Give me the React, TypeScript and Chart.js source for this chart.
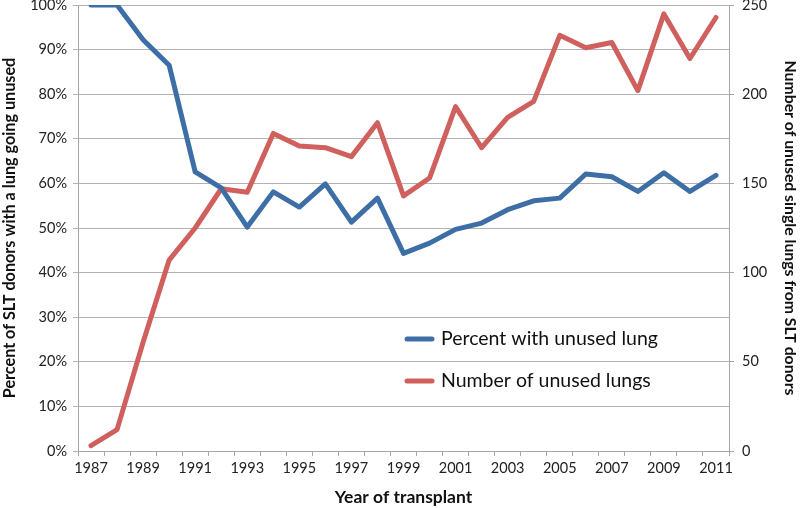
import React, { useEffect, useRef } from "react";
import { Chart, registerables } from "chart.js";

Chart.register(...registerables);

const years: string[] = [
  "1987", "1988", "1989", "1990", "1991", "1992", "1993", "1994", "1995", "1996",
  "1997", "1998", "1999", "2000", "2001", "2002", "2003", "2004", "2005", "2006",
  "2007", "2008", "2009", "2010", "2011",
];

const percentUnused: number[] = [
  1.0, 1.0, 0.922, 0.865, 0.626, 0.59, 0.502, 0.581, 0.547, 0.599,
  0.513, 0.567, 0.443, 0.466, 0.497, 0.511, 0.541, 0.561, 0.567, 0.621,
  0.615, 0.582, 0.624, 0.582, 0.618,
];

const numberUnused: number[] = [
  3, 12, 61, 107, 125, 147, 145, 178, 171, 170,
  165, 184, 143, 153, 193, 170, 187, 196, 233, 226,
  229, 202, 245, 220, 243,
];

const leftTicks: number[] = [0, 0.1, 0.2, 0.3, 0.4, 0.5, 0.6, 0.7, 0.8, 0.9, 1.0];
const rightTicks: number[] = [0, 50, 100, 150, 200, 250];

const BLUE = "#3d6fa6";
const RED = "#d0605e";
const GRID = "#b3b3b3";
const AXIS = "#a6a6a6";
const FONT = "Lato, 'Open Sans', sans-serif";

const legendPlugin = {
  id: "insideLegend",
  afterDraw(chart: any) {
    const ctx = chart.ctx;
    const rows = [339, 381];
    ctx.save();
    chart.data.datasets.forEach((ds: any, i: number) => {
      const y = rows[i];
      ctx.strokeStyle = ds.borderColor;
      ctx.lineWidth = 5;
      ctx.lineCap = "round";
      ctx.beginPath();
      ctx.moveTo(407, y);
      ctx.lineTo(432, y);
      ctx.stroke();
      ctx.fillStyle = "#111";
      ctx.font = `19.5px ${FONT}`;
      ctx.textBaseline = "middle";
      ctx.textAlign = "left";
      ctx.fillText(ds.label, 441, y);
    });
    ctx.restore();
  },
};

export default function App() {
  const ref = useRef<HTMLCanvasElement | null>(null);

  useEffect(() => {
    document.body.style.margin = "0";
    if (!ref.current) return;
    const chart = new Chart(ref.current, {
      type: "line",
      data: {
        labels: years,
        datasets: [
          {
            label: "Percent with unused lung",
            data: percentUnused,
            borderColor: BLUE,
            backgroundColor: BLUE,
            borderWidth: 5,
            pointRadius: 0,
            tension: 0,
            yAxisID: "y",
            borderCapStyle: "round",
            borderJoinStyle: "round",
          },
          {
            label: "Number of unused lungs",
            data: numberUnused,
            borderColor: RED,
            backgroundColor: RED,
            borderWidth: 5,
            pointRadius: 0,
            tension: 0,
            yAxisID: "y1",
            borderCapStyle: "round",
            borderJoinStyle: "round",
          },
        ],
      },
      options: {
        animation: false,
        responsive: false,
        maintainAspectRatio: false,
        layout: { padding: { top: 5, left: 0, right: 0, bottom: 0 } },
        plugins: {
          legend: { display: false },
          tooltip: { enabled: false },
        },
        scales: {
          x: {
            type: "category",
            offset: true,
            grid: {
              offset: true,
              drawOnChartArea: false,
              drawTicks: true,
              tickLength: 5,
              color: AXIS,
            },
            border: { color: AXIS, width: 1 },
            ticks: {
              autoSkip: false,
              maxRotation: 0,
              minRotation: 0,
              padding: 4,
              color: "#222",
              font: { family: FONT, size: 14.5 },
              callback: (_v: any, i: number) => (i % 2 === 0 ? years[i] : ""),
            },
            title: {
              display: true,
              text: "Year of transplant",
              color: "#111",
              font: { family: FONT, size: 17.5, weight: "bold" },
              padding: { top: 3, bottom: 0 },
            },
            afterFit: (s: any) => {
              s.height = 57;
              s.paddingLeft = 0;
              s.paddingRight = 0;
            },
          },
          y: {
            position: "left",
            min: 0,
            max: 1,
            afterBuildTicks: (s: any) => {
              s.ticks = leftTicks.map((v) => ({ value: v }));
            },
            grid: { color: GRID, tickLength: 5, drawTicks: true },
            border: { color: AXIS },
            ticks: {
              padding: 6,
              color: "#222",
              font: { family: FONT, size: 14.5 },
              callback: (v: any) => `${Math.round(Number(v) * 100)}%`,
            },
            title: {
              display: true,
              text: "Percent of SLT donors with a lung going unused",
              color: "#111",
              font: { family: FONT, size: 16.2, weight: "bold" },
              padding: { top: 0, bottom: 0 },
            },
            afterFit: (s: any) => {
              s.width = 78;
              s.paddingTop = 0;
              s.paddingBottom = 0;
            },
          },
          y1: {
            position: "right",
            min: 0,
            max: 250,
            afterBuildTicks: (s: any) => {
              s.ticks = rightTicks.map((v) => ({ value: v }));
            },
            grid: { drawOnChartArea: false, color: AXIS, tickLength: 5, drawTicks: true },
            border: { color: AXIS },
            ticks: {
              padding: 8,
              color: "#222",
              font: { family: FONT, size: 14.5 },
            },
            title: {
              display: true,
              text: "Number of unused single lungs from SLT donors",
              color: "#111",
              font: { family: FONT, size: 15.8, weight: "bold" },
              padding: { top: 0, bottom: 0 },
            },
            afterFit: (s: any) => {
              s.width = 71;
              s.paddingTop = 0;
              s.paddingBottom = 0;
            },
          },
        },
      },
      plugins: [legendPlugin],
    });
    return () => chart.destroy();
  }, []);

  return (
    <div style={{ width: 800, height: 508 }}>
      <canvas ref={ref} width={800} height={508} style={{ display: "block" }} />
    </div>
  );
}
